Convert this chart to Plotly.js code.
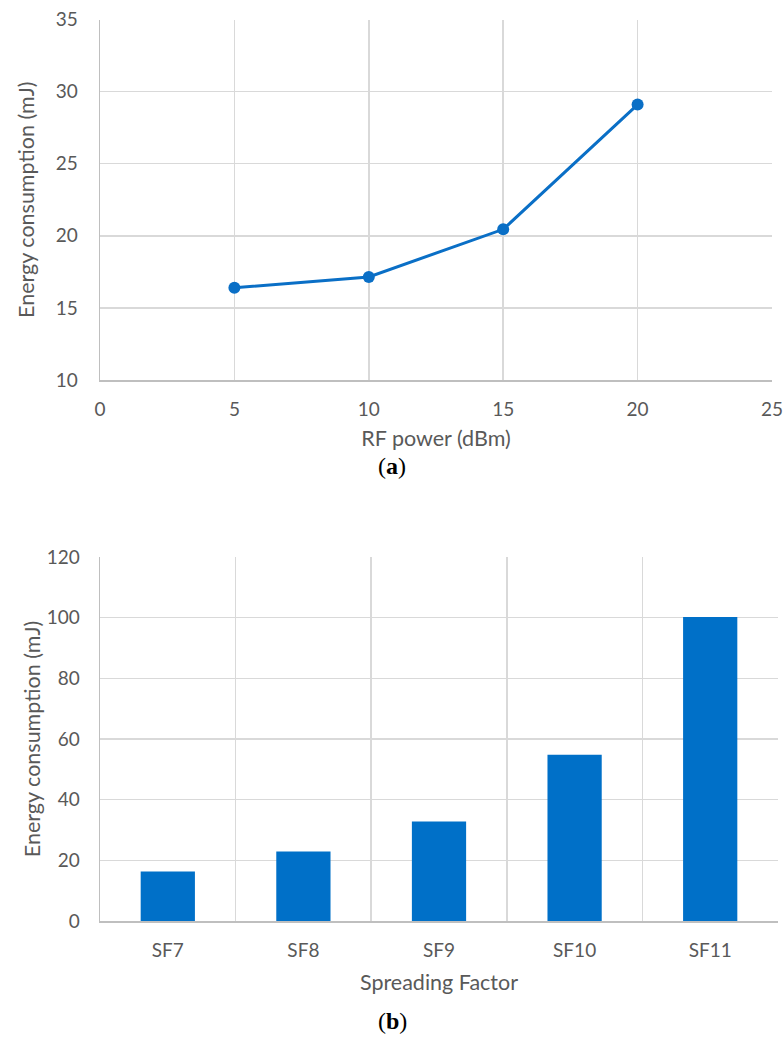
<!DOCTYPE html>
<html>
<head>
<meta charset="utf-8">
<script src="https://cdn.plot.ly/plotly-3.0.1.min.js"></script>
<style>html,body{margin:0;padding:0;background:#fff;}#chart{width:784px;height:1047px;}</style>
</head>
<body>
<div id="chart"></div>
<script>
// Panel (a)
const rfPower = [5, 10, 15, 20];
const energyA = [16.4, 17.15, 20.45, 29.1];
// Panel (b)
const spreadingFactors = ['SF7', 'SF8', 'SF9', 'SF10', 'SF11'];
const energyB = [16.3, 22.9, 32.8, 54.8, 100.2];

const W = 784, H = 1047;
const px = v => v / W;
const py = v => 1 - v / H;

const tickFont = {family: 'Lato, "Open Sans", sans-serif', size: 19, color: '#595959'};
const titleFont = {family: 'Lato, "Open Sans", sans-serif', size: 21.5, color: '#595959'};
const gridColor = '#d9d9d9';
const axisColor = '#bfbfbf';

const traces = [
  {
    type: 'scatter', mode: 'lines+markers',
    x: rfPower, y: energyA,
    line: {color: '#0a6fc6', width: 3},
    marker: {color: '#0a6fc6', size: 12},
    xaxis: 'x', yaxis: 'y', hoverinfo: 'none'
  },
  {
    type: 'bar',
    x: spreadingFactors, y: energyB,
    marker: {color: '#0070c8'},
    xaxis: 'x2', yaxis: 'y2', hoverinfo: 'none'
  }
];

const layout = {
  width: W, height: H,
  margin: {l: 0, r: 0, t: 0, b: 0},
  paper_bgcolor: '#ffffff', plot_bgcolor: '#ffffff',
  showlegend: false,
  bargap: 0.6,
  xaxis: {
    domain: [px(100), px(772)], anchor: 'y',
    range: [0, 25], dtick: 5, tick0: 0,
    showgrid: true, gridcolor: gridColor, gridwidth: 1.5,
    showline: true, linecolor: axisColor, linewidth: 1.5,
    zeroline: false, ticks: '', ticklabelstandoff: 12,
    tickfont: tickFont,
    title: {text: 'RF power (dBm)', font: titleFont, standoff: 11}
  },
  yaxis: {
    domain: [py(380), py(19.5)], anchor: 'x',
    range: [10, 35], dtick: 5,
    showgrid: true, gridcolor: gridColor, gridwidth: 1.5,
    showline: true, linecolor: axisColor, linewidth: 1.5,
    zeroline: false, ticks: '', ticklabelstandoff: 17,
    tickfont: tickFont,
    title: {text: 'Energy consumption (mJ)', font: titleFont, standoff: 15}
  },
  xaxis2: {
    domain: [px(100), px(778)], anchor: 'y2',
    type: 'category', tickson: 'boundaries',
    showgrid: true, gridcolor: gridColor, gridwidth: 1.5,
    showline: true, linecolor: axisColor, linewidth: 1.5,
    zeroline: false, ticks: '', ticklabelstandoff: 12,
    tickfont: tickFont,
    title: {text: 'Spreading Factor', font: titleFont, standoff: 14}
  },
  yaxis2: {
    domain: [py(921), py(557)], anchor: 'x2',
    range: [0, 120], dtick: 20,
    showgrid: true, gridcolor: gridColor, gridwidth: 1.5,
    showline: true, linecolor: axisColor, linewidth: 1.5,
    zeroline: false, ticks: '', ticklabelstandoff: 15,
    tickfont: tickFont,
    title: {text: 'Energy consumption (mJ)', font: titleFont, standoff: 0}
  },
  annotations: [
    {text: '(<b>a</b>)', xref: 'paper', yref: 'paper', x: px(392), y: py(466),
     xanchor: 'center', yanchor: 'middle', showarrow: false,
     font: {family: '"Liberation Serif", "DejaVu Serif", serif', size: 24, color: '#000'}},
    {text: '(<b>b</b>)', xref: 'paper', yref: 'paper', x: px(392), y: py(1021),
     xanchor: 'center', yanchor: 'middle', showarrow: false,
     font: {family: '"Liberation Serif", "DejaVu Serif", serif', size: 24, color: '#000'}}
  ]
};

Plotly.newPlot('chart', traces, layout, {displayModeBar: false, staticPlot: true});
</script>
</body>
</html>
